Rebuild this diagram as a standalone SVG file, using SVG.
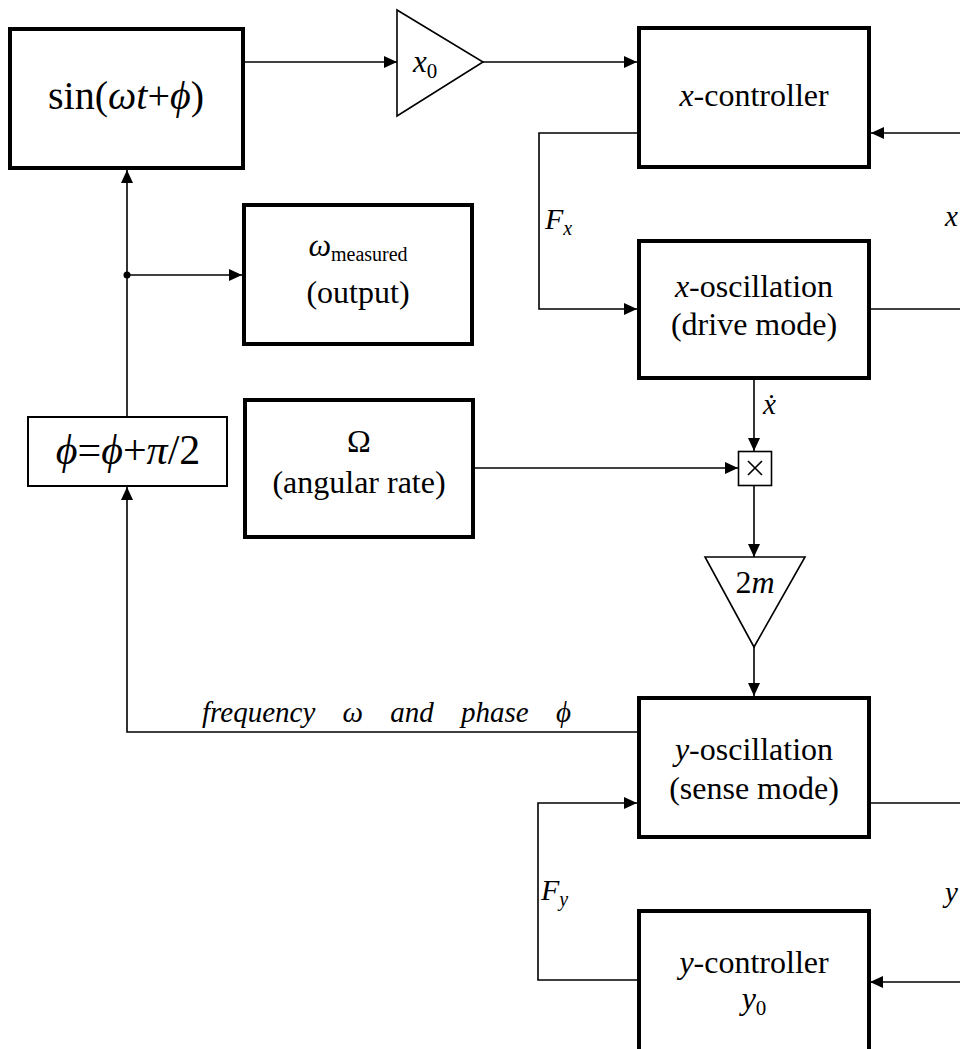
<svg xmlns="http://www.w3.org/2000/svg" width="960" height="1049" viewBox="0 0 960 1049" font-family="'Liberation Serif', 'DejaVu Serif', serif">
<style>
.box{fill:#fff;stroke:#000;stroke-width:4}
.thin{fill:#fff;stroke:#000;stroke-width:1.6}
.c{fill:none;stroke:#000;stroke-width:1.6}
text{font-family:"Liberation Serif","DejaVu Serif",serif;fill:#000}
.t{font-size:32px;text-anchor:middle}
.i{font-style:italic}
</style>
<defs>
<marker id="a" markerUnits="userSpaceOnUse" markerWidth="14" markerHeight="12" refX="13" refY="6" orient="auto">
<path d="M0,0 L13,6 L0,12 z" fill="#000"/>
</marker>
</defs>
<rect width="960" height="1049" fill="#fff"/>
<g id="connectors">
<line class="c" x1="245" y1="62" x2="397" y2="62" marker-end="url(#a)"/>
<line class="c" x1="483" y1="62" x2="637" y2="62" marker-end="url(#a)"/>
<line class="c" x1="960" y1="133" x2="871" y2="133" marker-end="url(#a)"/>
<polyline class="c" points="637,133 539,133 539,309 637,309" marker-end="url(#a)"/>
<line class="c" x1="871" y1="309" x2="960" y2="309"/>
<line class="c" x1="754" y1="380" x2="754" y2="451" marker-end="url(#a)"/>
<line class="c" x1="475" y1="468" x2="738" y2="468" marker-end="url(#a)"/>
<line class="c" x1="754" y1="486" x2="754" y2="557" marker-end="url(#a)"/>
<line class="c" x1="754" y1="647" x2="754" y2="696" marker-end="url(#a)"/>
<polyline class="c" points="637,732 127,732 127,487" marker-end="url(#a)"/>
<line class="c" x1="127" y1="416" x2="127" y2="170" marker-end="url(#a)"/>
<line class="c" x1="127" y1="275" x2="242" y2="275" marker-end="url(#a)"/>
<circle cx="127" cy="275" r="3.5" fill="#000"/>
<line class="c" x1="871" y1="803" x2="960" y2="803"/>
<line class="c" x1="960" y1="982" x2="870" y2="982" marker-end="url(#a)"/>
<polyline class="c" points="637,980 538,980 538,803 637,803" marker-end="url(#a)"/>
<text x="545" y="229" class="i" font-size="30">F<tspan font-size="20" dy="6">x</tspan></text>
<text x="763" y="414" class="i" font-size="29">ẋ</text>
<text x="945" y="226" class="i" font-size="29">x</text>
<text x="541" y="900" class="i" font-size="30">F<tspan font-size="20" dy="6">y</tspan></text>
<text x="945" y="902" class="i" font-size="29">y</text>
<text x="202" y="722" class="i" font-size="29" word-spacing="20">frequency ω and phase ϕ</text>
</g>
<g id="sin">
<rect class="box" x="10" y="29" width="233" height="139"/>
<text x="126" y="109" font-size="40" text-anchor="middle">sin(<tspan class="i">ωt</tspan>+<tspan class="i">ϕ</tspan>)</text>
</g>
<g id="x0">
<polygon class="thin" points="397,10 397,116 483,62"/>
<text x="413" y="72" class="i" font-size="31">x<tspan font-size="21" dy="6" font-style="normal">0</tspan></text>
</g>
<g id="xcontroller">
<rect class="box" x="639" y="28" width="230" height="139"/>
<text x="754" y="106" class="t"><tspan class="i">x</tspan>-controller</text>
</g>
<g id="xosc">
<rect class="box" x="639" y="241" width="230" height="137"/>
<text x="754" y="297" class="t"><tspan class="i">x</tspan>-oscillation</text>
<text x="754" y="335" class="t">(drive mode)</text>
</g>
<g id="omegameasured">
<rect class="box" x="244" y="205" width="228" height="139"/>
<text x="358" y="256" class="t"><tspan class="i">ω</tspan><tspan font-size="20" dy="5">measured</tspan></text>
<text x="358" y="303" class="t">(output)</text>
</g>
<g id="phibox">
<rect class="box" style="stroke-width:2" x="28" y="417" width="199" height="69"/>
<text x="128" y="464" font-size="42" text-anchor="middle"><tspan class="i">ϕ</tspan>=<tspan class="i">ϕ</tspan>+<tspan class="i">π</tspan>/2</text>
</g>
<g id="omega">
<rect class="box" x="245" y="400" width="228" height="137"/>
<text x="359" y="452" class="t">Ω</text>
<text x="359" y="493" class="t">(angular rate)</text>
</g>
<g id="mult">
<rect class="thin" x="738.5" y="451.5" width="33" height="34"/>
<path d="M748,461 L762,475 M762,461 L748,475" stroke="#000" stroke-width="1.6"/>
</g>
<g id="gain2m">
<polygon class="thin" points="705,557 805,557 754,647"/>
<text x="755" y="593" class="t">2<tspan class="i">m</tspan></text>
</g>
<g id="yosc">
<rect class="box" x="639" y="698" width="230" height="139"/>
<text x="754" y="760" class="t"><tspan class="i">y</tspan>-oscillation</text>
<text x="754" y="799" class="t">(sense mode)</text>
</g>
<g id="ycontroller">
<rect class="box" x="639" y="911" width="230" height="150"/>
<text x="754" y="973" class="t"><tspan class="i">y</tspan>-controller</text>
<text x="754" y="1009" class="t"><tspan class="i">y</tspan><tspan font-size="21" dy="6">0</tspan></text>
</g>
</svg>
